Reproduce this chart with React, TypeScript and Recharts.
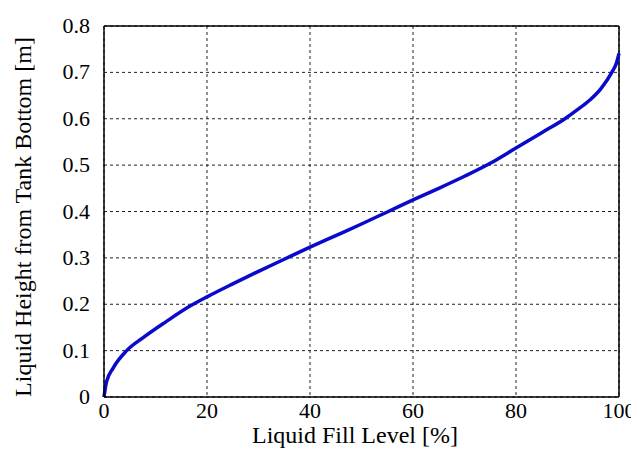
import { LineChart, Line, XAxis, YAxis, CartesianGrid, ReferenceLine } from 'recharts';

// values
const fillLevel = [0, 0.5, 1.8, 4.4, 7.6, 12, 16.7, 20, 25, 30, 34.8, 40, 45, 50, 55, 60, 65, 70, 75, 80, 85, 89.5, 92, 94.4, 96.5, 98.6, 99.5, 100];
const liquidHeight = [0, 0.033, 0.063, 0.1, 0.128, 0.162, 0.196, 0.216, 0.244, 0.271, 0.296, 0.323, 0.348, 0.373, 0.399, 0.425, 0.45, 0.476, 0.504, 0.537, 0.57, 0.6, 0.62, 0.641, 0.665, 0.7, 0.72, 0.741];
const xTicks = [0, 20, 40, 60, 80, 100];
const yTicks = [0, 0.1, 0.2, 0.3, 0.4, 0.5, 0.6, 0.7, 0.8];

const data = fillLevel.map((x, i) => ({ x, h: liquidHeight[i] }));

const FONT = "'Liberation Serif', 'Times New Roman', serif";
const txt = { fontFamily: FONT };

const XTick = (p: any) => (
  <text x={p.x} y={p.y} dy={15} textAnchor="middle" fontFamily={FONT} style={txt} fontSize={22} fill="#000">
    {p.payload.value}
  </text>
);

const YTick = (p: any) => (
  <text x={p.x} y={p.y} dy={7} textAnchor="end" fontFamily={FONT} style={txt} fontSize={22} fill="#000">
    {p.payload.value}
  </text>
);

export default function App() {
  return (
    <div style={{ position: 'relative', marginLeft: -8, marginTop: -8, width: 639, height: 456, fontFamily: FONT }}>
      {/* warm-up text so the serif face is resolved before the chart draws */}
      <svg width={1} height={1} style={{ position: 'absolute', left: 0, top: 0, opacity: 0 }}>
        <text x={0} y={1} fontFamily="Liberation Serif" fontSize={24}>Liquid 0.8</text>
      </svg>
      <LineChart
        width={639}
        height={456}
        data={data}
        margin={{ top: 26, right: 20, left: 0, bottom: 0 }}
        style={{ background: '#fff', fontFamily: FONT }}
      >
        <CartesianGrid stroke="#222" strokeDasharray="3 3" strokeWidth={1} />
        <XAxis
          dataKey="x"
          type="number"
          domain={[0, 100]}
          ticks={xTicks}
          height={59}
          tick={XTick}
          tickLine={false}
          tickSize={6}
          tickMargin={0}
          axisLine={{ stroke: '#000', strokeWidth: 1.5 }}
        />
        <YAxis
          type="number"
          domain={[0, 0.8]}
          ticks={yTicks}
          width={104}
          tick={YTick}
          tickLine={false}
          tickSize={6}
          tickMargin={8}
          axisLine={{ stroke: '#000', strokeWidth: 1.5 }}
        />
        <ReferenceLine y={0.8} stroke="#000" strokeWidth={1.5} />
        <ReferenceLine x={100} stroke="#000" strokeWidth={1.5} />
        <Line type="monotone" dataKey="h" stroke="#0a0acd" strokeWidth={3.5} dot={false} isAnimationActive={false} />
        <text x={355} y={443} textAnchor="middle" fontFamily={FONT} style={txt} fontSize={24} fill="#000">
          Liquid Fill Level [%]
        </text>
        <text x={31} y={217} transform="rotate(-90, 31, 217)" textAnchor="middle" fontFamily={FONT} style={txt} fontSize={24} fill="#000">
          Liquid Height from Tank Bottom [m]
        </text>
      </LineChart>
    </div>
  );
}
